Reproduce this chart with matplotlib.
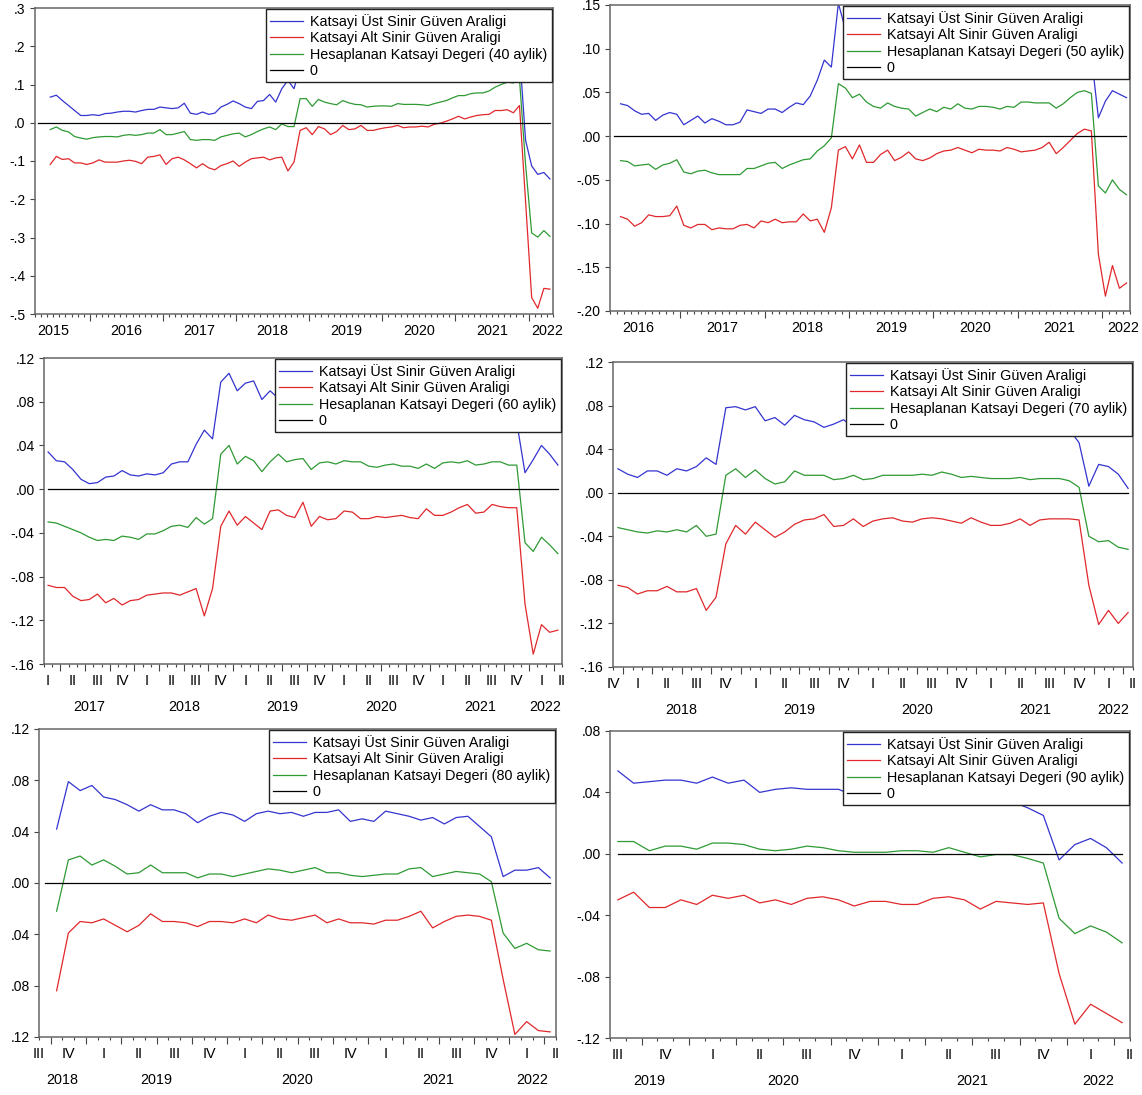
import numpy as np
import matplotlib
matplotlib.use("Agg")
import matplotlib.pyplot as plt

plt.rcParams['font.family'] = ['Liberation Sans', 'DejaVu Sans']

# Series names (legend)
label_upper = "Katsayi Üst Sinir Güven Araligi"
label_lower = "Katsayi Alt Sinir Güven Araligi"
label_coef = "Hesaplanan Katsayi Degeri ({} aylik)"
label_zero = "0"

# ---- 40 aylik, monthly 2015M06 - 2022M04
upper_40 = [.067, .072, .058, .045, .032, .019, .019, .021, .019, .024,
            .025, .028, .030, .030, .028, .032, .035, .035, .041, .039,
            .037, .039, .051, .025, .022, .028, .022, .025, .041, .048,
            .057, .050, .041, .037, .056, .058, .074, .054, .089, .111,
            .089, .146, .139, .121, .132, .124, .131, .120, .123, .122,
            .118, .117, .117, .118, .118, .117, .117, .119, .119, .118,
            .119, .118, .118, .120, .121, .122, .124, .127, .132, .137,
            .137, .135, .144, .154, .168, .178, .182, .185, -.046, -.113,
            -.135, -.130, -.147]
lower_40 = [-.109, -.088, -.096, -.094, -.105, -.105, -.109, -.105, -.097, -.103,
            -.103, -.103, -.100, -.098, -.101, -.107, -.090, -.088, -.084, -.109,
            -.094, -.090, -.097, -.107, -.118, -.107, -.118, -.123, -.112, -.107,
            -.100, -.114, -.103, -.094, -.092, -.090, -.097, -.092, -.090, -.126,
            -.103, -.020, -.013, -.031, -.010, -.016, -.031, -.023, -.007, -.018,
            -.016, -.007, -.020, -.020, -.016, -.013, -.011, -.007, -.013, -.011,
            -.011, -.009, -.011, -.004, -.001, .004, .010, .017, .010, .015,
            .019, .021, .022, .032, .032, .034, .026, .045, -.206, -.457,
            -.485, -.433, -.435]
coef_40 = [-.018, -.011, -.020, -.024, -.036, -.040, -.043, -.039, -.037, -.036,
           -.036, -.037, -.033, -.031, -.033, -.031, -.027, -.027, -.018, -.031,
           -.031, -.027, -.023, -.044, -.046, -.044, -.044, -.046, -.037, -.033,
           -.029, -.027, -.037, -.031, -.023, -.016, -.011, -.018, -.003, -.010,
           -.010, .063, .063, .043, .061, .054, .050, .047, .058, .052,
           .048, .047, .041, .043, .044, .044, .043, .050, .048, .048,
           .048, .047, .045, .050, .054, .058, .065, .071, .071, .076,
           .078, .078, .083, .093, .100, .106, .104, .115, -.110, -.288,
           -.299, -.282, -.297]

# ---- 50 aylik, 2016M04 - 2022M04
upper_50 = [.037, .035, .029, .025, .026, .018, .024, .027, .025, .013,
            .018, .023, .015, .020, .017, .013, .013, .016, .030, .028,
            .026, .031, .031, .027, .033, .038, .036, .046, .064, .087,
            .079, .152, .122, .114, .106, .108, .098, .085, .092, .096,
            .088, .080, .074, .082, .087, .076, .083, .078, .087, .080,
            .081, .083, .084, .082, .079, .081, .081, .096, .095, .092,
            .089, .083, .084, .087, .093, .097, .096, .092, .021, .040,
            .052, .048, .044]
lower_50 = [-.092, -.095, -.103, -.099, -.090, -.092, -.092, -.091, -.080, -.102,
            -.105, -.101, -.101, -.107, -.105, -.106, -.106, -.102, -.101, -.105,
            -.097, -.099, -.095, -.099, -.098, -.098, -.089, -.097, -.095, -.110,
            -.082, -.016, -.012, -.026, -.010, -.030, -.030, -.021, -.016, -.028,
            -.024, -.018, -.026, -.028, -.025, -.020, -.017, -.016, -.013, -.016,
            -.019, -.015, -.016, -.016, -.017, -.013, -.015, -.018, -.017, -.016,
            -.013, -.007, -.020, -.013, -.005, .003, .008, .006, -.135, -.183,
            -.148, -.174, -.168]
coef_50 = [-.028, -.029, -.034, -.033, -.032, -.038, -.033, -.031, -.027, -.041,
           -.043, -.040, -.039, -.042, -.044, -.044, -.044, -.044, -.037, -.037,
           -.034, -.031, -.030, -.037, -.033, -.030, -.027, -.026, -.017, -.011,
           -.002, .060, .055, .044, .048, .039, .034, .032, .038, .034,
           .032, .031, .023, .027, .031, .028, .033, .031, .037, .032,
           .031, .034, .034, .033, .031, .034, .033, .039, .039, .038,
           .038, .038, .032, .037, .044, .050, .052, .049, -.057, -.065,
           -.050, -.061, -.067]

# ---- 60 aylik, 2017M02 - 2022M04
upper_60 = [.034, .026, .025, .018, .009, .005, .006, .011, .012, .017,
            .013, .012, .014, .013, .015, .023, .025, .025, .041, .054,
            .046, .098, .106, .090, .097, .099, .082, .090, .083, .074,
            .080, .068, .070, .073, .078, .073, .072, .071, .077, .069,
            .065, .070, .071, .066, .068, .065, .064, .062, .072, .071,
            .065, .066, .066, .067, .064, .066, .061, .061, .015, .027,
            .040, .032, .022]
lower_60 = [-.088, -.090, -.090, -.098, -.102, -.101, -.096, -.104, -.100, -.106,
            -.102, -.101, -.097, -.096, -.095, -.095, -.097, -.094, -.091, -.116,
            -.091, -.034, -.020, -.033, -.025, -.031, -.037, -.020, -.019, -.024,
            -.026, -.012, -.034, -.025, -.028, -.027, -.020, -.021, -.027, -.027,
            -.025, -.026, -.025, -.024, -.026, -.027, -.018, -.024, -.024, -.021,
            -.017, -.014, -.022, -.021, -.014, -.016, -.017, -.017, -.105, -.151,
            -.124, -.131, -.129]
coef_60 = [-.030, -.031, -.034, -.037, -.040, -.044, -.047, -.046, -.047, -.043,
           -.044, -.046, -.041, -.041, -.038, -.034, -.033, -.035, -.026, -.032,
           -.027, .032, .040, .023, .030, .026, .016, .025, .032, .025,
           .027, .028, .018, .024, .025, .023, .026, .025, .025, .021,
           .020, .022, .023, .021, .021, .019, .023, .019, .024, .025,
           .024, .026, .022, .023, .025, .025, .022, .022, -.049, -.057,
           -.044, -.051, -.059]

# ---- 70 aylik, 2017M12 - 2022M04
upper_70 = [.022, .017, .014, .020, .020, .016, .022, .020, .024, .032,
            .026, .078, .079, .076, .079, .066, .069, .062, .071, .067,
            .065, .060, .063, .067, .060, .059, .059, .060, .059, .061,
            .062, .061, .059, .064, .062, .060, .059, .059, .060, .060,
            .059, .059, .059, .059, .059, .059, .058, .046, .006, .026,
            .024, .017, .004]
lower_70 = [-.085, -.087, -.093, -.090, -.090, -.086, -.091, -.091, -.088, -.108,
            -.096, -.047, -.030, -.038, -.027, -.034, -.041, -.036, -.029, -.025,
            -.024, -.020, -.031, -.030, -.024, -.031, -.026, -.024, -.023, -.026,
            -.027, -.024, -.023, -.024, -.026, -.028, -.023, -.027, -.030, -.030,
            -.028, -.024, -.030, -.025, -.024, -.024, -.024, -.025, -.085, -.121,
            -.108, -.120, -.110]
coef_70 = [-.032, -.034, -.036, -.037, -.035, -.036, -.034, -.036, -.030, -.040,
           -.038, .016, .022, .014, .021, .013, .008, .010, .020, .016,
           .016, .016, .012, .013, .016, .012, .013, .016, .016, .016,
           .016, .017, .016, .019, .017, .014, .015, .014, .013, .013,
           .013, .014, .012, .013, .013, .013, .011, .005, -.040, -.045,
           -.044, -.050, -.052]

# ---- 80 aylik, 2018M10 - 2022M04
upper_80 = [.042, .079, .072, .076, .067, .065, .061, .056, .061, .057,
            .057, .054, .047, .052, .055, .053, .048, .054, .056, .054,
            .055, .052, .055, .055, .057, .048, .050, .048, .056, .054,
            .052, .049, .051, .046, .051, .052, .044, .036, .005, .010,
            .010, .012, .004]
lower_80 = [-.084, -.039, -.030, -.031, -.028, -.033, -.038, -.033, -.024, -.030,
            -.030, -.031, -.034, -.030, -.030, -.031, -.028, -.031, -.025, -.028,
            -.029, -.027, -.025, -.031, -.028, -.031, -.031, -.032, -.029, -.029,
            -.026, -.022, -.035, -.030, -.026, -.025, -.026, -.029, -.075, -.118,
            -.108, -.115, -.116]
coef_80 = [-.022, .018, .021, .014, .018, .013, .007, .008, .014, .008,
           .008, .008, .004, .007, .007, .005, .007, .009, .011, .010,
           .008, .010, .012, .008, .008, .006, .005, .006, .007, .007,
           .011, .012, .005, .007, .009, .008, .007, .001, -.039, -.051,
           -.047, -.052, -.053]

# ---- 90 aylik, 2019M08 - 2022M04
upper_90 = [.054, .046, .047, .048, .048, .046, .050, .046, .048, .040,
            .042, .043, .042, .042, .042, .038, .036, .036, .038, .038,
            .036, .037, .036, .036, .036, .034, .030, .025, -.004, .006,
            .010, .004, -.006]
lower_90 = [-.030, -.025, -.035, -.035, -.030, -.033, -.027, -.029, -.027, -.032,
            -.030, -.033, -.029, -.028, -.030, -.034, -.031, -.031, -.033, -.033,
            -.029, -.028, -.030, -.036, -.031, -.032, -.033, -.032, -.078, -.111,
            -.098, -.104, -.110]
coef_90 = [.008, .008, .002, .005, .005, .003, .007, .007, .006, .003,
           .002, .003, .005, .004, .002, .001, .001, .001, .002, .002,
           .001, .004, .001, -.002, -.0005, -.0005, -.003, -.006, -.042, -.052,
           -.047, -.051, -.058]

# y-axis ticks / labels per panel
yt_40 = [.3, .2, .1, .0, -.1, -.2, -.3, -.4, -.5]
yl_40 = [".3", ".2", ".1", ".0", "-.1", "-.2", "-.3", "-.4", "-.5"]
yt_50 = [.15, .10, .05, .0, -.05, -.10, -.15, -.20]
yl_50 = [".15", ".10", ".05", ".00", "-.05", "-.10", "-.15", "-.20"]
yt_60 = [.12, .08, .04, .0, -.04, -.08, -.12, -.16]
yl_60 = [".12", ".08", ".04", ".00", "-.04", "-.08", "-.12", "-.16"]
yt_80 = [.12, .08, .04, .0, -.04, -.08, -.12]
yl_80 = [".12", ".08", ".04", ".00", ".04", ".08", ".12"]   # minus signs cut off in source
yt_90 = [.08, .04, .0, -.04, -.08, -.12]
yl_90 = [".08", ".04", ".00", "-.04", "-.08", "-.12"]

QNAMES = ["I", "II", "III", "IV"]
LAST_YEAR = 2022

BLUE = "#3434d0"
RED = "#e0282c"
GREEN = "#2f9a34"

W, H = 1142, 1095

panels = [
    dict(w=40, up=upper_40, lo=lower_40, co=coef_40, start=(2015, 6), lead=2,
         rect=(35, 8, 553, 314), yt=yt_40, yl=yl_40, mode="year"),
    dict(w=50, up=upper_50, lo=lower_50, co=coef_50, start=(2016, 4), lead=1,
         rect=(610, 5, 1130, 311), yt=yt_50, yl=yl_50, mode="year"),
    dict(w=60, up=upper_60, lo=lower_60, co=coef_60, start=(2017, 2), lead=0,
         rect=(44, 358, 562, 664), yt=yt_60, yl=yl_60, mode="quarter"),
    dict(w=70, up=upper_70, lo=lower_70, co=coef_70, start=(2017, 12), lead=0,
         rect=(613, 362, 1133, 667), yt=yt_60, yl=yl_60, mode="quarter"),
    dict(w=80, up=upper_80, lo=lower_80, co=coef_80, start=(2018, 10), lead=1,
         rect=(39, 729, 556, 1037), yt=yt_80, yl=yl_80, mode="quarter"),
    dict(w=90, up=upper_90, lo=lower_90, co=coef_90, start=(2019, 8), lead=0,
         rect=(610, 731, 1130, 1038), yt=yt_90, yl=yl_90, mode="quarter"),
]


def month_pos(y, m, start):
    return (y - start[0]) * 12 + (m - start[1])


def put_label(ax, x, text, dy_px):
    ax.annotate(text, xy=(x, 0), xycoords=("data", "axes fraction"),
                xytext=(0, -dy_px * 72 / 100), textcoords="offset points",
                ha="center", va="center", fontsize=10.4, annotation_clip=False)


fig = plt.figure(figsize=(W / 100, H / 100), dpi=100)

for p in panels:
    l, t, r, b = p["rect"]
    ax = fig.add_axes([l / W, 1 - b / H, (r - l) / W, (b - t) / H])
    n = len(p["co"])
    x = np.arange(n)
    x0, x1 = -p["lead"] - 0.5, n - 0.5

    ax.plot(x, p["up"], color=BLUE, lw=0.9, label=label_upper)
    ax.plot(x, p["lo"], color=RED, lw=0.9, label=label_lower)
    ax.plot(x, p["co"], color=GREEN, lw=0.9, label=label_coef.format(p["w"]))
    xz = np.arange(-p["lead"], n)
    ax.plot(xz, np.zeros(len(xz)), color="black", lw=0.9, label=label_zero)

    ax.set_xlim(x0, x1)
    ax.set_ylim(min(p["yt"]), max(p["yt"]))
    ax.set_yticks(p["yt"])
    ax.set_yticklabels(p["yl"])

    # month boundaries
    bounds = np.arange(-p["lead"] - 1, n) + 0.5
    majors = []
    y0 = p["start"][0]
    if p["mode"] == "year":
        for yy in range(y0, LAST_YEAR + 1):
            b0 = month_pos(yy, 1, p["start"]) - 0.5
            if x0 < b0 < x1:
                majors.append(b0)
            mid = min(max(b0 + 6, x0), x1 - 1.0)
            put_label(ax, mid, str(yy), 17)
    else:
        for yy in range(y0, LAST_YEAR + 1):
            for q in range(4):
                b0 = month_pos(yy, 3 * q + 1, p["start"]) - 0.5
                b1 = b0 + 3
                if b1 <= x0 or b0 >= x1:
                    continue
                if x0 <= b0 <= x1:
                    majors.append(b0)
                mid = min(max(b0 + 1.5, x0), x1)
                put_label(ax, mid, QNAMES[q], 17)
            yb0 = month_pos(yy, 1, p["start"]) - 0.5
            v0, v1 = max(yb0, x0), min(yb0 + 12, x1)
            if v1 - v0 >= 2:
                put_label(ax, (v0 + v1) / 2, str(yy), 43)
    minors = [v for v in bounds if x0 <= v <= x1 and all(abs(v - m) > 1e-6 for m in majors)]
    ax.set_xticks(majors)
    ax.set_xticklabels([])
    ax.set_xticks(minors, minor=True)
    ax.tick_params(axis="x", which="major", direction="out", length=5, width=0.8, color="#444444")
    ax.tick_params(axis="x", which="minor", direction="out", length=2.3, width=0.8, color="#444444")
    ax.tick_params(axis="y", direction="out", length=3.6, width=0.8, pad=3.2,
                   labelsize=10, color="#444444")
    for s in ax.spines.values():
        s.set_color("#666666")
        s.set_linewidth(1.1)

    leg = ax.legend(loc="upper right", bbox_to_anchor=(1, 1), borderaxespad=0.1,
                    fontsize=10.4, fancybox=False, framealpha=1, edgecolor="#222222",
                    handlelength=2.28, handletextpad=0.48, labelspacing=0.17,
                    borderpad=0.3)
    leg.get_frame().set_linewidth(1.0)

fig.savefig("out.png", dpi=100)
